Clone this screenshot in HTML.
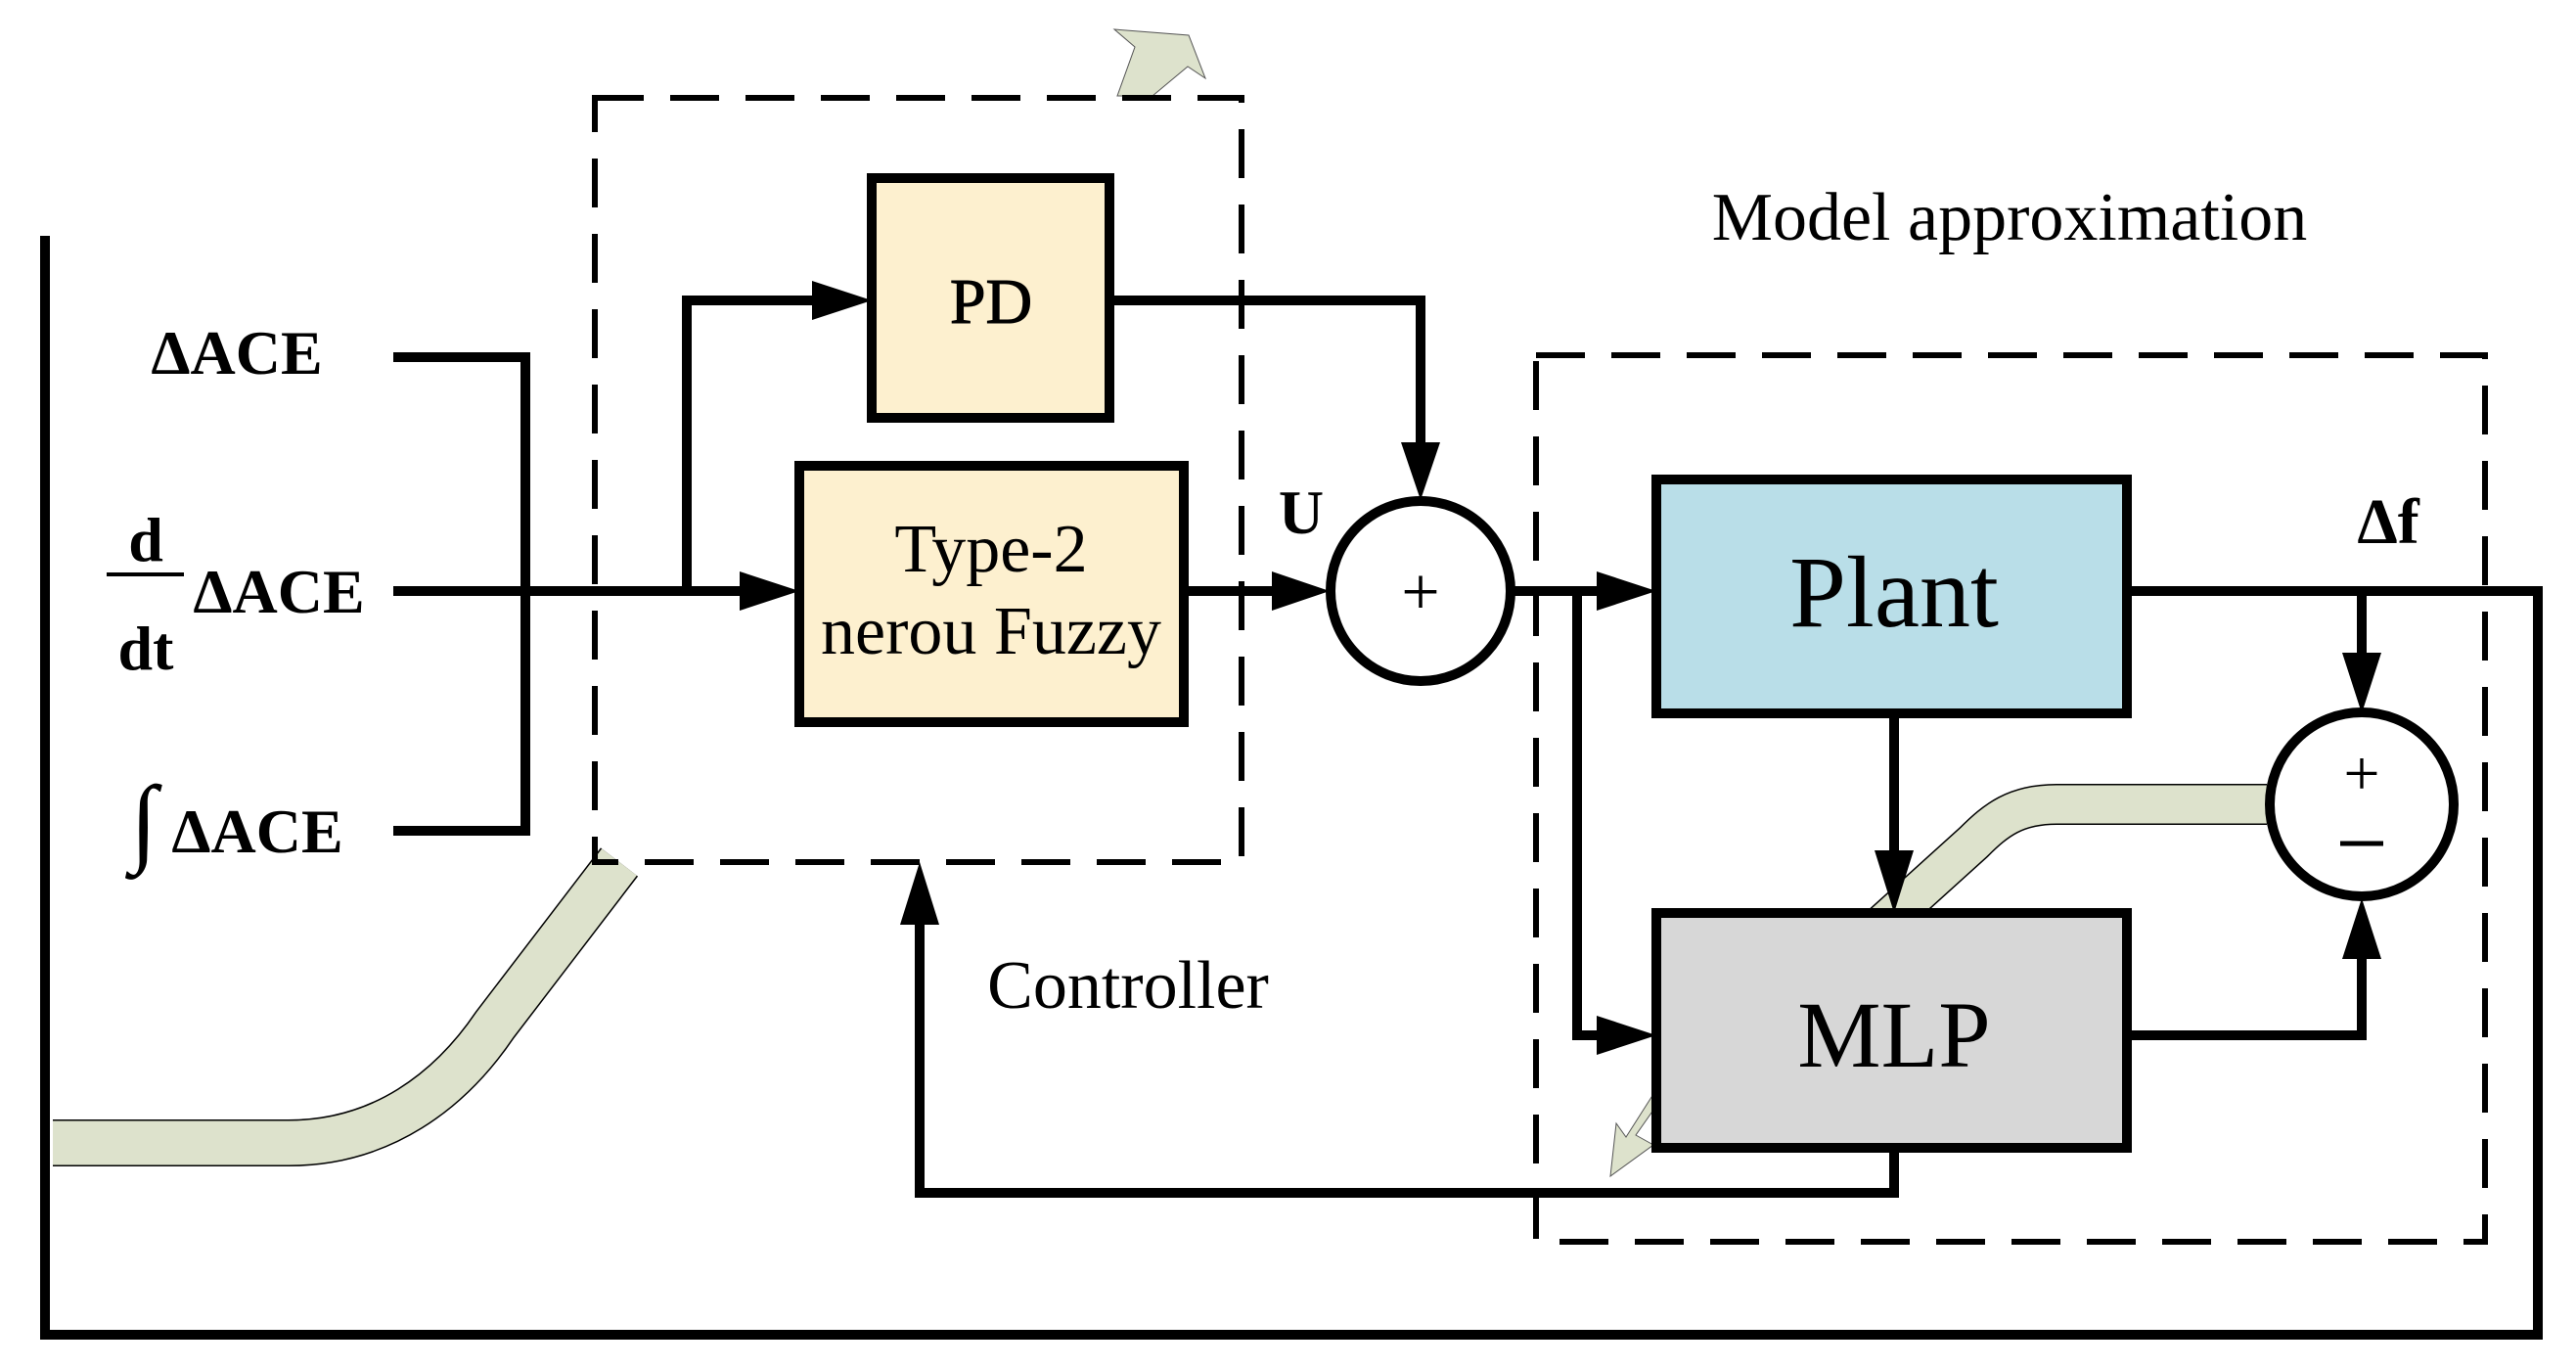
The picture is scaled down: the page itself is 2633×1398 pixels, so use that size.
<!DOCTYPE html>
<html><head><meta charset="utf-8"><style>
html,body{margin:0;padding:0;background:#fff;}
svg{display:block;}
text{font-family:"Liberation Serif",serif;fill:#000;}
</style></head><body>
<svg width="2633" height="1398" viewBox="0 0 2633 1398" xmlns="http://www.w3.org/2000/svg">
<!-- green bands -->
<path d="M633,881 L506,1047 C460,1115 390,1168 295,1168 L54,1168" fill="none" stroke="#000" stroke-width="48"/>
<path d="M633,881 L506,1047 C460,1115 390,1168 295,1168 L54,1168" fill="none" stroke="#dde2cc" stroke-width="45"/>
<path d="M2317,822 L2102,822 C2060,822 2040,838 2017,861 L1924,945" fill="none" stroke="#000" stroke-width="42"/>
<path d="M2317,822 L2102,822 C2060,822 2040,838 2017,861 L1924,945" fill="none" stroke="#dde2cc" stroke-width="39"/>
<polygon points="1160,48 1139,30 1215,36 1232,80 1214,68 1178,98 1142,98" fill="#dde2cc" stroke="#555" stroke-width="1"/>
<polygon points="1700,1120 1672,1160 1690,1170 1646,1202 1652,1148 1662,1162 1690,1118" fill="#dde2cc" stroke="#555" stroke-width="1"/>

<g stroke="#000" fill="none" stroke-width="10">
<polyline points="46,241 46,1364 2594,1364 2594,604 2174,604"/>
<polyline points="402,365 537,365 537,849 402,849"/>
<line x1="402" y1="604" x2="760" y2="604"/>
<polyline points="702,604 702,307 835,307"/>
<polyline points="1134,307 1452,307 1452,460"/>
<line x1="1210" y1="604" x2="1305" y2="604"/>
<line x1="1545" y1="604" x2="1635" y2="604"/>
<polyline points="1612,604 1612,1058 1635,1058"/>
<line x1="1936" y1="729" x2="1936" y2="875"/>
<polyline points="2414,604 2414,672"/>
<polyline points="2174,1058 2414,1058 2414,980"/>
<polyline points="1936,1173 1936,1219 940,1219 940,940"/>
</g>
<g fill="#000">
<polygon points="817,604 756,584 756,624"/>
<polygon points="891,307 830,287 830,327"/>
<polygon points="1452,511 1432,452 1472,452"/>
<polygon points="1359,604 1300,584 1300,624"/>
<polygon points="1693,604 1632,584 1632,624"/>
<polygon points="1693,1058 1632,1038 1632,1078"/>
<polygon points="1936,933 1916,869 1956,869"/>
<polygon points="2414,729 2394,667 2434,667"/>
<polygon points="2414,918 2394,980 2434,980"/>
<polygon points="940,881 920,945 960,945"/>
</g>
<rect x="608" y="100" width="661" height="781" fill="none" stroke="#000" stroke-width="6" stroke-dasharray="50,27"/>
<rect x="1570" y="363" width="970" height="906" fill="none" stroke="#000" stroke-width="6" stroke-dasharray="50,27"/>
<rect x="891" y="182" width="243" height="245" fill="#fdf0cf" stroke="#000" stroke-width="10"/>
<rect x="817" y="476" width="393" height="262" fill="#fdf0cf" stroke="#000" stroke-width="10"/>
<rect x="1693" y="490" width="481" height="239" fill="#b9dee8" stroke="#000" stroke-width="10"/>
<rect x="1693" y="933" width="481" height="240" fill="#d7d7d7" stroke="#000" stroke-width="10"/>
<circle cx="1452" cy="604" r="92" fill="#fff" stroke="#000" stroke-width="10"/>
<circle cx="2414" cy="822" r="94" fill="#fff" stroke="#000" stroke-width="10"/>
<text x="1013" y="330" font-size="66" text-anchor="middle" stroke="#000" stroke-width="1">PD</text>
<text x="1013" y="584" font-size="70" text-anchor="middle">Type-2</text>
<text x="1013" y="668" font-size="70" text-anchor="middle">nerou Fuzzy</text>
<text x="1936" y="640" font-size="104" text-anchor="middle">Plant</text>
<text x="1936" y="1090" font-size="96" text-anchor="middle">MLP</text>
<text x="1452" y="628" font-size="70" text-anchor="middle">+</text>
<text x="2414" y="812" font-size="66" text-anchor="middle">+</text>
<line x1="2392" y1="862" x2="2436" y2="862" stroke="#000" stroke-width="5"/>
<text x="2054" y="245" font-size="70" text-anchor="middle">Model approximation</text>
<text x="1153" y="1030" font-size="70" text-anchor="middle">Controller</text>
<text x="1330" y="545" font-size="64" font-weight="bold" text-anchor="middle">U</text>
<text x="2441" y="555" font-size="66" font-weight="bold" text-anchor="middle">Δf</text>
<text x="242" y="382" font-size="64" font-weight="bold" text-anchor="middle">ΔACE</text>
<text x="285" y="626" font-size="64" font-weight="bold" text-anchor="middle">ΔACE</text>
<text x="149" y="573" font-size="64" font-weight="bold" text-anchor="middle">d</text>
<line x1="109" y1="587" x2="188" y2="587" stroke="#000" stroke-width="4"/>
<text x="149" y="684" font-size="64" font-weight="bold" text-anchor="middle">dt</text>
<text x="147" y="872" font-size="100" text-anchor="middle">∫</text>
<text x="263" y="871" font-size="64" font-weight="bold" text-anchor="middle">ΔACE</text>
</svg>
</body></html>
